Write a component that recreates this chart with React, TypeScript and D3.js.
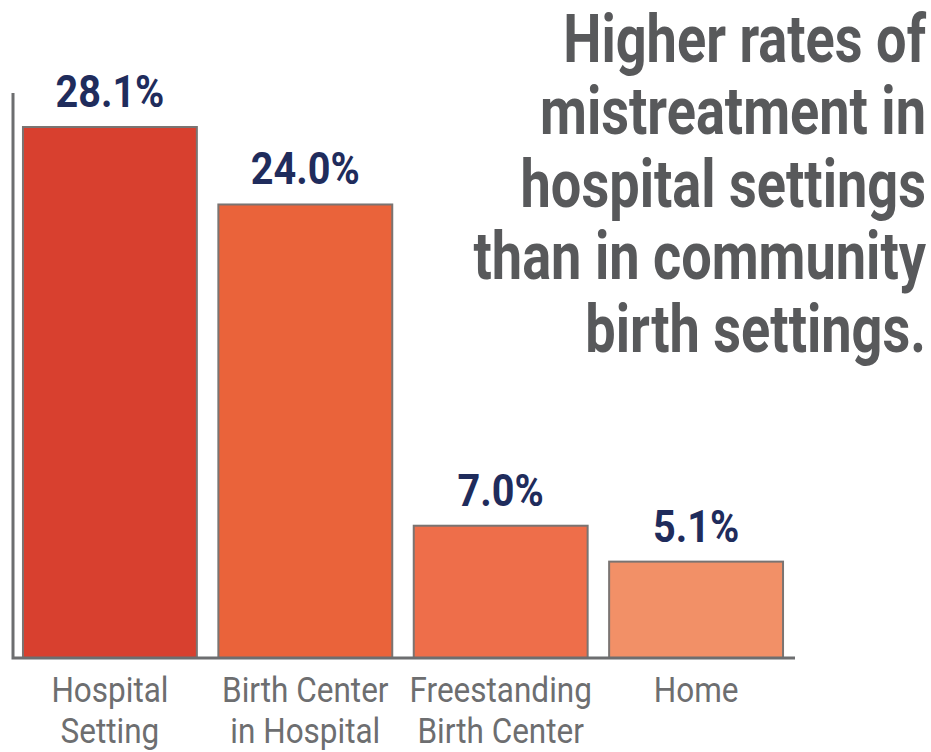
import React from "react"
import { scaleBand, scaleLinear } from "d3"

const categories = ["Hospital Setting", "Birth Center in Hospital", "Freestanding Birth Center", "Home"]
const categoryLines = [
  ["Hospital", "Setting"],
  ["Birth Center", "in Hospital"],
  ["Freestanding", "Birth Center"],
  ["Home"],
]
const values = [28.1, 24.0, 7.0, 5.1]
const barColors = ["#d8402f", "#ea633a", "#ee6e4a", "#f29067"]
const titleLines = [
  "Higher rates of",
  "mistreatment in",
  "hospital settings",
  "than in community",
  "birth settings.",
]

const W = 931
const H = 752
const font = "Roboto, 'Noto Sans', sans-serif"

// fonts on hand are not narrow, so squeeze them horizontally
const titleSqueeze = 0.82
const valueSqueeze = 0.9
const labelSqueeze = 0.9

export default function App() {
  const x = scaleBand<string>()
    .domain(categories)
    .range([13, 793])
    .paddingInner(0.11)
    .paddingOuter(0.051)

  const y = scaleLinear().domain([0, 28.1]).range([658, 127])

  return (
    <div style={{ position: "absolute", left: 0, top: 0 }}>
      <svg width={W} height={H} style={{ display: "block", background: "#fff" }}>
        {/* title */}
        <g
          transform={`translate(926,0) scale(${titleSqueeze},1)`}
          fontFamily={font}
          fontWeight="bold"
          fill="#58595b"
          textAnchor="end"
        >
          {titleLines.map((line, i) => (
            <text key={i} x={0} y={62 + i * 72.5} fontSize={66}>
              {line}
            </text>
          ))}
        </g>

        {/* bars */}
        {categories.map((c, i) => (
          <rect
            key={c}
            x={x(c)}
            y={y(values[i])}
            width={x.bandwidth()}
            height={y(0) - y(values[i])}
            fill={barColors[i]}
            stroke="#7a7472"
            strokeWidth={2}
          />
        ))}

        {/* axes */}
        <path
          d={`M13,93 V${y(0)} H795`}
          fill="none"
          stroke="#6d6e70"
          strokeWidth={3}
        />

        {/* value labels */}
        {categories.map((c, i) => (
          <g
            key={c}
            transform={`translate(${x(c)! + x.bandwidth() / 2},${y(values[i]) - 20}) scale(${valueSqueeze},1)`}
          >
            <text
              textAnchor="middle"
              fontFamily={font}
              fontWeight="bold"
              fontSize={44}
              fill="#1f2c5c"
            >
              {values[i].toFixed(1)}%
            </text>
          </g>
        ))}

        {/* category labels */}
        {categories.map((c, i) => (
          <g
            key={c}
            transform={`translate(${x(c)! + x.bandwidth() / 2},0) scale(${labelSqueeze},1)`}
          >
            <text textAnchor="middle" fontFamily={font} fontSize={35} fill="#6d6e70">
              {categoryLines[i].map((line, j) => (
                <tspan key={j} x={0} y={702 + j * 41}>
                  {line}
                </tspan>
              ))}
            </text>
          </g>
        ))}
      </svg>
    </div>
  )
}
